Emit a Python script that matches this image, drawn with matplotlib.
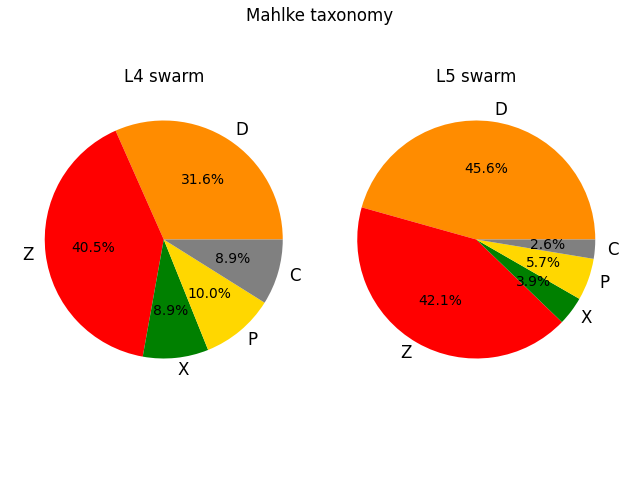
import matplotlib
matplotlib.use("Agg")
import matplotlib.pyplot as plt

classes = ["D", "Z", "X", "P", "C"]
colors = ["darkorange", "red", "green", "gold", "grey"]
l4_values = [31.6, 40.5, 8.9, 10.0, 8.9]
l5_values = [45.6, 42.1, 3.9, 5.7, 2.6]

fig, axes = plt.subplots(1, 2, figsize=(6.4, 4.8), dpi=100)
for ax, vals, title in zip(axes, [l4_values, l5_values], ["L4 swarm", "L5 swarm"]):
    wedges, texts, autotexts = ax.pie(vals, labels=classes, colors=colors, autopct="%.1f%%",
                                      textprops={"fontsize": 10})
    for t in texts:
        t.set_fontsize(12)
    ax.set_title(title, fontsize=12)
fig.suptitle("Mahlke taxonomy", fontsize=12, y=0.985)
fig.tight_layout()
dy = 17 / 480
for ax in axes:
    p = ax.get_position()
    ax.set_position([p.x0, p.y0 + dy, p.width, p.height])
fig.savefig("out.png")
